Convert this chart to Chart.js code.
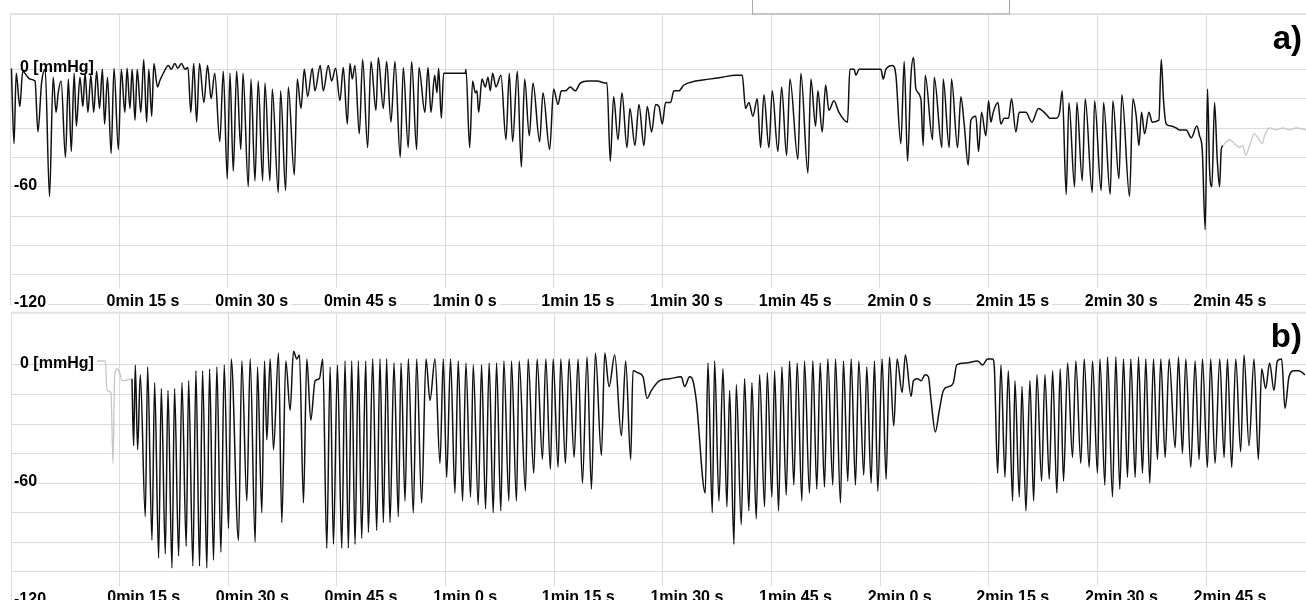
<!DOCTYPE html>
<html>
<head>
<meta charset="utf-8">
<script src="https://cdn.jsdelivr.net/npm/chart.js@4.4.0/dist/chart.umd.min.js"></script>
<style>
  html, body { margin: 0; padding: 0; background: #fff; overflow: hidden; }
  body { width: 1306px; height: 600px; position: relative; }
  .panel { position: absolute; left: 0; width: 1306px; }
  #wrapA { top: 0; height: 308px; }
  #wrapB { top: 308px; height: 300px; }
</style>
</head>
<body>
<div class="panel" id="wrapA"><canvas id="chartA" width="1306" height="308"></canvas></div>
<div class="panel" id="wrapB"><canvas id="chartB" width="1306" height="300"></canvas></div>
<script>
// ===== Data (time in s, pressure in mmHg) =====
const TIME_TICKS = [15, 30, 45, 60, 75, 90, 105, 120, 135, 150, 165];
const TIME_LABELS = ['0min 15 s', '0min 30 s', '0min 45 s', '1min 0 s', '1min 15 s', '1min 30 s',
  '1min 45 s', '2min 0 s', '2min 15 s', '2min 30 s', '2min 45 s'];
const GRID_VALUES = [0, -15, -30, -45, -60, -75, -90, -105, -120];
const Y_LABEL_VALUES = [0, -60, -120];
const Y_LABELS = ['0 [mmHg]', '-60', '-120'];
const PANEL_NAMES = ['a)', 'b)'];

// panel a) recorded trace
const traceA = [
  [0.14,0.5],[0.5,-38],[0.8,-2],[1.3,-19],[1.7,-1],[2.2,-3],[2.7,-5],[3.4,-6],[3.8,-32],[4.3,-7],
  [4.8,0],[5.4,-65],[5.9,-4],[6.3,-22],[6.6,-12],[7.0,-6],[7.6,-45],[8.0,-5],[8.4,-42],[8.8,-2],
  [9.1,-29],[9.6,-4],[10.0,-19],[10.3,-2],[10.7,-22],[11.1,-3],[11.5,-22],[11.9,-1],[12.3,-20],[12.7,0],
  [13.0,-28],[13.4,-4],[13.9,-43],[14.3,0.5],[14.9,-41],[15.3,0],[15.8,-22],[16.1,0.5],[16.5,-20],[16.8,0],
  [17.2,-26],[17.5,0],[18.0,-22],[18.4,5],[18.8,-27],[19.1,0],[19.5,-24],[19.8,3],[20.3,-9],[20.6,-6],
  [21.1,-2],[21.8,2],[22.2,0],[22.7,3],[23.1,0.5],[23.6,3],[24.1,0],[24.5,1],[24.9,-22],[25.3,3],
  [25.7,-27],[26.1,3],[26.7,-17],[27.2,2],[27.7,-15],[28.2,-2],[28.9,-37],
  [29.38,-1],[29.93,-56],[30.3,-2],[30.76,-52],[31.22,-1],[31.8,-41],[32.1,-2],[32.83,-60],[33.2,-5],[33.75,-57],
  [34.2,-6],[34.81,-57],[35.13,-7],[35.82,-57],[36.14,-10],[36.97,-63],[37.29,-11],[37.98,-62],[38.35,-9],[39.18,-54],
  [39.59,-5],[40.1,-20],[40.56,0],[41.02,-14],[41.66,0.5],[42.03,-11],[42.76,2],[43.18,-11],[43.87,2],[44.33,-6],
  [44.88,0.5],[45.48,-16],[45.94,1],[46.5,-28],[46.86,3],[47.18,-5],[47.55,2],[48.15,-33],[48.61,5],[49.3,-40],
  [49.76,4],[50.45,-21],[50.77,6],[51.46,-20],[51.92,4],[52.52,-27],[53.07,4],[53.8,-45],[54.22,1],[54.9,-40],
  [55.37,4],[56.06,-41],[56.38,1],[57.2,-22],
  [57.63,1],[58.04,-22],[58.55,-3],[58.87,-12],[59.1,0.5],[59.47,-25],[59.79,-2],[62.78,-2],[62.87,0],[63.38,-40],
  [63.79,-6],[64.16,-12],[64.39,-11],[64.62,-22],[65.08,-5],[65.54,-9],[65.91,-4],[66.23,-11],[66.55,-2],[67.01,-9],
  [67.7,-3],[68.39,-36],[68.85,-2],[69.31,-37],[69.96,-1],[70.51,-50],[70.97,-5],[71.61,-34],[72.12,-7],[73.04,-37],
  [73.5,-12],[74.42,-41],[74.97,-10],[75.57,-18],[76.03,-11],[76.58,-11],[77.27,-9],[77.96,-11],[78.65,-7],[79.8,-6],
  [80.95,-6],[82.1,-7],[82.33,-7],[82.79,-47],[83.25,-14],[83.85,-36],[84.4,-12],[85.09,-40],[85.5,-20],
  [86.19,-39],[86.74,-18],[87.43,-39],[87.89,-19],[88.49,-32],[89.04,-18],[89.5,-19],[89.96,-28],[90.42,-17],[91.11,-17],
  [91.57,-11],[92.26,-11],[92.95,-8],[94.56,-6],[96.4,-5],[98.24,-4],[100.08,-3],[101.0,-3],[101.46,-20],[101.92,-17],
  [102.47,-24],[103.07,-15],[103.53,-40],[103.99,-13],[104.68,-40],[105.14,-11],[105.92,-42],[106.43,-9],[107.12,-44],[107.58,-5],
  [108.68,-46],[109.09,-2],[110.06,-53],[110.47,-5],[111.12,-29],[111.44,-11],[112.04,-32],[112.5,-8],[112.96,-21],[113.65,-16],
  [114.34,-22],
  [115.53,-27],[115.85,0],[116.45,0],[116.68,-3],[117.14,0],[120.13,0],[120.45,-5],[120.82,0],[121.74,2],[122.2,-3],
  [122.89,-38],[123.35,4],[123.81,-47],[124.27,-4],[124.64,6],[124.96,-10],[125.65,-15],[125.97,-39],[126.25,-3],[127.26,-36],
  [127.49,-4],[128.55,-40],[128.73,-5],[129.56,-40],[129.88,-5],[130.71,-40],[131.17,-14],[131.63,-28],[132.18,-49],[132.55,-26],
  [133.24,-24],[133.61,-42],[134.02,-22],[134.62,-34],[134.99,-16],[135.31,-27],[135.63,-22],[136.28,-17],[136.69,-28],[137.15,-25],
  [137.75,-25],[138.16,-15],[138.76,-32],[139.22,-22],[140.14,-22],[140.97,-27],[141.89,-20],[142.67,-22],[143.17,-24],
  [143.41,-25],[144.33,-25],[144.79,-22],[145.16,-11],[145.71,-64],[146.08,-17],[146.86,-60],[147.18,-17],[147.92,-57],[148.33,-15],
  [149.3,-63],[149.62,-16],[150.54,-62],[150.86,-17],[151.78,-64],[152.15,-16],[152.98,-56],[153.39,-13],[154.45,-65],[154.91,-15],
  [155.37,-24],[155.74,-39],[156.11,-22],[156.52,-33],[157.12,-22],[157.58,-27],[158.5,-26],[158.82,5],[159.14,-16],[159.51,-28],
  [160.2,-29],[160.89,-30],[161.35,-31],[162.27,-31],[162.96,-35],[163.74,-29],[164.11,-34],[164.48,-41],[164.89,-82],[165.21,-10],
  [165.49,-51],[165.81,-60],[166.18,-17],[166.55,-46],[166.87,-60],[167.1,-41],[167.33,-39]
];
// panel a) faint tail after the recording stops
const tailA = [
  [167.33,-39],[168.25,-36],[168.94,-38],[169.63,-40],[170.09,-39],[170.46,-44],[171.01,-39],[171.7,-33],[172.16,-35],
  [172.76,-38],[173.08,-34],[173.77,-30],[174.69,-31],[175.61,-30],[176.53,-31],[177.45,-30],[178.78,-31]
];

// panel b) faint lead-in
const headB = [
  [11.86,2],[13.0,2],[13.24,-13],[13.79,-14],[14.07,-50],[14.3,-6],[14.62,-2],[14.99,-4],[15.31,-8],[16.69,-7]
];
// panel b) recorded trace
const traceB = [
  [16.69,-7],[16.92,-41],[17.15,0],[17.47,-43],[17.84,-5],[18.53,-77],[18.85,-1],[19.45,-89],[19.82,-9],[20.37,-98],
  [20.74,-12],[21.29,-96],[21.66,-13],[22.21,-103],[22.57,-12],[23.13,-97],[23.59,-9],[24.18,-92],[24.51,-8],[25.1,-102],
  [25.52,-3],[26.02,-102],[26.44,-3],[27.03,-103],[27.4,-2],[27.95,-99],[28.41,-1],[28.97,-95],[29.43,0],[30.02,-83],
  [30.39,3],[31.4,-89],[31.86,2],[32.55,-69],[33.01,3],[33.7,-90],[34.02,-1],[34.62,-75],[34.99,2],[35.31,-38],
  [35.77,3],[36.23,-43],[36.92,6],[37.38,-80],[37.93,2],[38.53,-23],[38.99,7],[39.45,3],[39.82,5],[40.37,-70],
  [40.83,3],[41.38,-28],[41.98,-8],[42.57,-7],[43.03,3],[43.59,-93],[44.05,-1],[44.51,-91],[45.06,0],[45.66,-93],
  [46.11,2],[46.57,-93],[47.03,2],[47.49,-91],[47.95,2],[48.41,-88],[48.97,2],[49.33,-85],[49.93,3],[50.48,-84],
  [50.94,3],[51.4,-80],[51.86,3],[52.32,-80],[52.87,1],[53.47,-77],[53.84,1],[54.39,-69],[54.85,3],[55.54,-75],
  [56.0,3],[56.69,-70],[57.29,3],[57.84,-18],[58.53,3],[59.22,-50],[59.68,3],[60.14,-57],
  [60.68,3],[61.28,-65],[61.74,2],[62.34,-69],[62.8,1],[63.44,-67],[63.81,0],[64.5,-71],[64.96,0],[65.51,-73],
  [66.01,1],[66.57,-75],[67.03,1],[67.62,-74],[68.04,2],[68.73,-69],[69.09,2],[69.78,-69],[70.15,2],[71.03,-64],
  [71.39,3],[72.17,-55],[72.63,3],[73.37,-48],[73.83,3],[74.47,-53],[74.84,3],[75.53,-52],[75.9,3],[76.54,-50],
  [77.05,3],[77.74,-47],[78.29,3],[78.89,-60],[79.53,4],[80.13,-63],[80.68,6],[81.51,-46],[81.97,6],[82.57,-11],
  [83.35,5],[84.27,-36],[84.86,2],[85.55,-48],[85.87,-3],[86.57,-4],[87.26,-6],[87.81,-17],[88.4,-13],[89.55,-8],
  [90.93,-7],[92.54,-6],[93.0,-11],[93.69,-6],[94.15,-8],[94.61,-18],[95.85,-65],[96.22,1],[96.82,-75],[97.14,2],
  [97.74,-69],[98.29,-2],[98.84,-72],[99.21,-13],[99.81,-91],[100.13,-10],[100.82,-81],[101.28,-7],[101.87,-74],[102.29,-9],
  [102.89,-78],[103.35,-5],[104.04,-72],[104.41,-4],[105.05,-67],[105.42,-3],[105.97,-74],[106.43,-1],[107.03,-66],[107.49,2],
  [108.08,-61],[108.54,1],[109.19,-69],[109.55,2],[110.24,-65],[110.7,2],[111.25,-63],[111.72,1],[112.31,-62],[112.77,3],
  [113.46,-61],[113.83,3],[114.52,-70],[114.93,2],[115.53,-59],[115.99,3],[116.59,-61],[117.05,2],[117.74,-56],[118.15,-1],
  [118.75,-60],[119.21,2],[119.67,-64],
  [120.27,3],[120.82,-58],[121.28,4],[121.88,-31],[122.34,3],[123.03,-14],[123.48,5],[124.27,-16],[124.59,-8],[125.19,-7],
  [125.65,-8],[126.2,-5],[126.66,-6],[127.03,-18],[127.62,-34],[128.17,-23],[128.73,-13],[129.46,-11],[130.11,-9],[130.57,0],
  [131.85,1],[133.46,2],[134.15,0],[134.84,3],[135.53,3],[135.76,-1],[136.22,-55],[136.68,0],[137.23,-57],[137.69,-3],
  [138.29,-69],[138.61,-8],[139.21,-67],[139.58,-11],[140.13,-74],[140.68,-8],[141.19,-69],[141.65,-5],[142.29,-59],[142.75,-5],
  [143.35,-58],[143.81,-3],[144.4,-65],[144.86,-2],[145.32,-59],[145.88,1],[146.56,-47],[147.02,2],[147.71,-50],[148.17,3],
  [148.86,-52],[149.32,2],[150.01,-55],[150.34,3],[151.03,-61],[151.39,4],[152.08,-67],[152.54,4],[153.09,-63],[153.6,3],
  [154.15,-57],[154.61,3],[155.21,-57],[155.67,4],[156.22,-55],[156.68,3],[157.23,-60],[157.74,3],[158.29,-48],[158.75,3],
  [159.35,-47],[159.9,3],[160.73,-42],[161.19,4],[161.74,-45],[162.2,3],[162.89,-52],[163.49,2],[164.04,-48],[164.5,3],
  [165.18,-52],[165.64,3],[166.24,-50],[166.89,3],[167.49,-47],[167.95,3],[168.54,-52],[169.1,3],[169.78,-44],[170.24,5],
  [170.93,-41],[171.62,3],[172.22,-48],[172.68,-2],[173.23,-12],[173.78,1],[174.38,-13],[174.84,2],[175.44,3],[175.9,-22],
  [176.45,-6],[177.14,-3],[177.83,-3],[178.66,-5]
];

// ===== Styles =====
const X_MAX = 178.8;
const GRID_COLOR = '#dcdcdc';
const BORDER_COLOR = '#e2e2e2';
const TRACE_COLOR = '#111111';
const FAINT_COLOR = '#c6c6c6';
const LABEL_FONT = 'bold 16px "Liberation Sans", Arial, sans-serif';

const toPoints = arr => arr.map(([x, y]) => ({ x, y }));

// gridless strip under the time labels, labels, panel letter
function decorPlugin(panel) {
  return {
    id: 'decor' + panel.name,
    beforeDatasetsDraw(chart) {
      const { ctx, chartArea: a } = chart;
      ctx.save();
      ctx.fillStyle = BORDER_COLOR;
      ctx.fillRect(a.left, a.top - 1, a.right - a.left, 2);
      ctx.fillStyle = '#fff';
      ctx.fillRect(a.left + 1, a.bottom - 15.5, a.right - a.left, 14.5);
      ctx.restore();
    },
    afterDraw(chart) {
      const { ctx, chartArea: a, scales: { x, y } } = chart;
      ctx.save();
      ctx.font = LABEL_FONT;
      ctx.textBaseline = 'alphabetic';
      TIME_TICKS.forEach((t, i) => {
        const px = x.getPixelForValue(t) - 12.5;
        const w = ctx.measureText(TIME_LABELS[i]).width;
        ctx.fillStyle = '#fff';
        ctx.fillRect(px - 3, a.bottom - 13, w + 6, 20);
        ctx.fillStyle = '#000';
        ctx.fillText(TIME_LABELS[i], px, a.bottom + panel.labelDrop);
      });
      ctx.textBaseline = 'middle';
      Y_LABEL_VALUES.forEach((v, i) => {
        const py = y.getPixelForValue(v) - 1.5;
        const px = i === 0 ? 20 : 14;
        if (v === -120) {
          const w = ctx.measureText(Y_LABELS[i]).width;
          ctx.fillStyle = '#fff';
          ctx.fillRect(px - 2, py - 8, w + 4, 20);
        }
        ctx.fillStyle = '#000';
        ctx.fillText(Y_LABELS[i], px, py);
      });
      ctx.font = 'bold 33px "Liberation Sans", Arial, sans-serif';
      ctx.textAlign = 'right';
      ctx.textBaseline = 'alphabetic';
      ctx.fillText(panel.name, 1302, a.top + panel.nameDrop);
      if (panel.box) {
        ctx.strokeStyle = '#a8a8a8';
        ctx.lineWidth = 1;
        ctx.strokeRect(752.5, -2, 257, 16);
      }
      ctx.restore();
    }
  };
}

function makeChart(canvasId, panel, datasets) {
  return new Chart(document.getElementById(canvasId), {
    type: 'line',
    data: { datasets },
    options: {
      responsive: false,
      animation: false,
      layout: { padding: panel.padding },
      plugins: { legend: { display: false }, tooltip: { enabled: false } },
      elements: { point: { radius: 0 } },
      scales: {
        x: {
          type: 'linear', min: 0, max: X_MAX,
          ticks: { display: false },
          grid: { color: GRID_COLOR, drawTicks: false, lineWidth: 1 },
          border: { display: false },
          afterBuildTicks: s => { s.ticks = [0, ...TIME_TICKS].map(value => ({ value })); },
          afterFit: s => { s.height = 0; }
        },
        y: {
          type: 'linear', min: -120, max: panel.yMax,
          ticks: { display: false },
          grid: { color: GRID_COLOR, drawTicks: false, lineWidth: 1 },
          border: { display: false },
          afterBuildTicks: s => { s.ticks = GRID_VALUES.map(value => ({ value })); },
          afterFit: s => { s.width = 0; }
        }
      }
    },
    plugins: [decorPlugin(panel)]
  });
}

function lineSet(points, color, width) {
  return {
    data: toPoints(points),
    borderColor: color,
    borderWidth: width,
    fill: false,
    cubicInterpolationMode: 'monotone',
    pointRadius: 0
  };
}

makeChart('chartA',
  { name: PANEL_NAMES[0], yMax: 28.3, padding: { left: 10.4, top: 14, right: 0, bottom: 4 }, labelDrop: 2, nameDrop: 35, box: true },
  [lineSet(tailA, FAINT_COLOR, 1.3), lineSet(traceA, TRACE_COLOR, 1.5)]);

makeChart('chartB',
  { name: PANEL_NAMES[1], yMax: 26.5, padding: { left: 11.1, top: 4.7, right: 0, bottom: 6.6 }, labelDrop: 0.5, nameDrop: 34, box: false },
  [lineSet(headB, FAINT_COLOR, 1.3), lineSet(traceB, TRACE_COLOR, 1.5)]);
</script>
</body>
</html>
